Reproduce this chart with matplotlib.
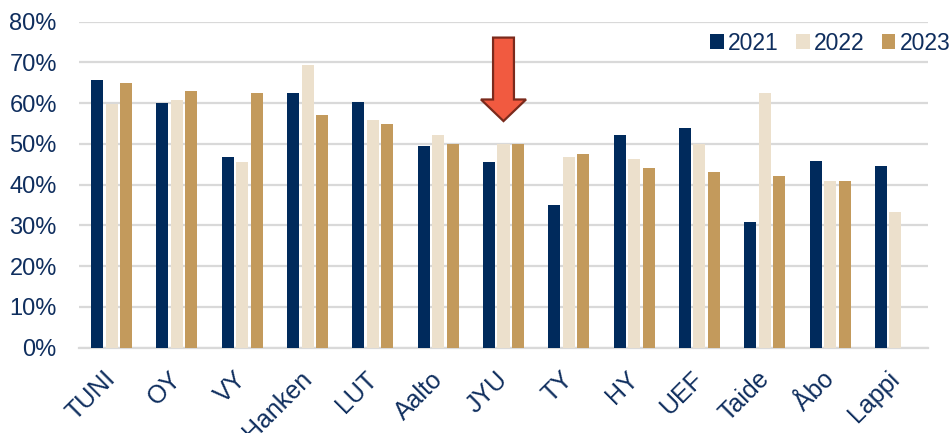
import matplotlib
matplotlib.use("Agg")
import matplotlib.pyplot as plt
import matplotlib.transforms as mtransforms
import numpy as np
from matplotlib.patches import FancyArrow
from matplotlib.ticker import FuncFormatter

plt.rcParams['font.family'] = ['Liberation Sans', 'DejaVu Sans']

categories = ["TUNI", "OY", "VY", "Hanken", "LUT", "Aalto", "JYU", "TY", "HY", "UEF", "Taide", "Åbo", "Lappi"]
years = ["2021", "2022", "2023"]
v2021 = [65.8, 60.0, 46.7, 62.4, 60.4, 49.6, 45.5, 35.1, 52.3, 53.8, 30.7, 45.7, 44.5]
v2022 = [59.9, 60.7, 45.5, 69.3, 55.8, 52.3, 49.9, 46.7, 46.4, 49.9, 62.4, 40.8, 33.2]
v2023 = [64.9, 63.1, 62.4, 57.0, 54.8, 49.9, 49.9, 47.4, 44.0, 43.2, 42.0, 41.0, np.nan]
colors = ["#002A5C", "#ECE0CC", "#C39A5C"]
text_color = "#0F2E5E"

W, H = 953, 433
fig = plt.figure(figsize=(W / 100, H / 100), dpi=100)
ax = fig.add_axes([79 / W, 1 - 347.5 / H, (928 - 79) / W, (347.5 - 21.7) / H])

x = np.arange(len(categories))
step = 0.222
bw = 0.184
for i, (vals, c, lab) in enumerate(zip([v2021, v2022, v2023], colors, years)):
    ax.bar(x + (i - 1) * step, vals, width=bw, color=c, label=lab, zorder=3)

ax.set_xlim(-0.5, len(categories) - 0.5)
ax.set_ylim(0, 80)
ax.set_yticks(np.arange(0, 81, 10))
ax.yaxis.set_major_formatter(FuncFormatter(lambda v, p: f"{int(v)}%"))
ax.grid(axis='y', color='#D9D9D9', linewidth=1.6, zorder=0)
ax.set_axisbelow(True)
for s in ['top', 'right', 'left']:
    ax.spines[s].set_visible(False)
ax.spines['bottom'].set_color('#D9D9D9')
ax.spines['bottom'].set_linewidth(1.6)
ax.tick_params(axis='both', length=0, labelcolor=text_color)
ax.tick_params(axis='y', pad=16, labelsize=17)
ax.set_xticks(x)
ax.set_xticklabels(categories, rotation=45, ha='right', rotation_mode='anchor')
ax.tick_params(axis='x', pad=14, labelsize=18)
offset = mtransforms.ScaledTranslation(-0.08, 0, fig.dpi_scale_trans)
for lbl in ax.get_xticklabels():
    lbl.set_transform(lbl.get_transform() + offset)

# arrow pointing at JYU
jyu = categories.index("JYU")
arr = FancyArrow(jyu, 76.1, 0, -20.5, width=0.32, head_width=0.69, head_length=5.3,
                 length_includes_head=True, facecolor="#F15A40", edgecolor="#7A2A1C",
                 linewidth=1.6, zorder=5)
ax.add_patch(arr)

leg = ax.legend(loc='upper right', bbox_to_anchor=(1.037, 0.997), ncol=3, frameon=False,
                fontsize=16.5, handlelength=0.6, handleheight=0.6, handletextpad=0.18,
                columnspacing=0.75, borderaxespad=0)
for t in leg.get_texts():
    t.set_color(text_color)

fig.savefig("out.png", dpi=100)
